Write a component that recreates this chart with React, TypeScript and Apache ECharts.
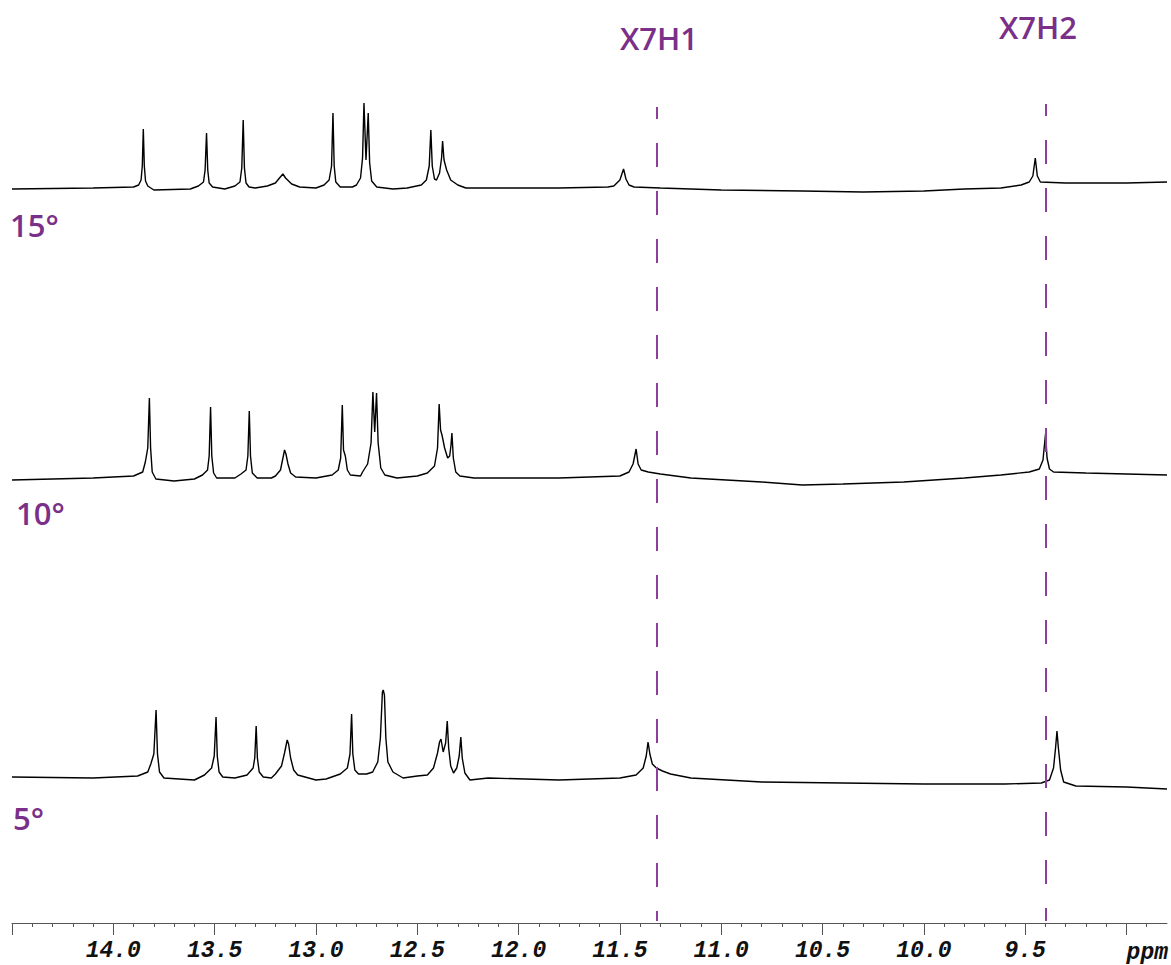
import React, { useEffect, useRef } from "react";
import * as echarts from "echarts";

// ---- axis ----
const PPM_MIN = 8.8;
const PPM_MAX = 14.5;
const MAJOR_TICKS = [14.5, 14.0, 13.5, 13.0, 12.5, 12.0, 11.5, 11.0, 10.5, 10.0, 9.5, 9.0];
const MAJOR_LABELS = [14.0, 13.5, 13.0, 12.5, 12.0, 11.5, 11.0, 10.5, 10.0, 9.5];
const MINOR_TICKS = [
  14.4, 14.3, 14.2, 14.1, 13.9, 13.8, 13.7, 13.6, 13.4, 13.3, 13.2, 13.1,
  12.9, 12.8, 12.7, 12.6, 12.4, 12.3, 12.2, 12.1, 11.9, 11.8, 11.7, 11.6,
  11.4, 11.3, 11.2, 11.1, 10.9, 10.8, 10.7, 10.6, 10.4, 10.3, 10.2, 10.1,
  9.9, 9.8, 9.7, 9.6, 9.4, 9.3, 9.2, 9.1, 8.9,
];
const AXIS_UNIT = "ppm";

// ---- annotations ----
const MARKERS = [
  { name: "X7H1", ppm: 11.32 },
  { name: "X7H2", ppm: 9.4 },
];
const TEMPERATURES = ["15°", "10°", "5°"];

// ---- spectra: [ppm, intensity] ----
const TRACE_15: [number, number][] = [
  [14.5, -1], [14.1, 0], [13.9, 1], [13.875, 3], [13.863, 8], [13.857, 22], [13.852, 59],
  [13.847, 22], [13.841, 7], [13.83, 2], [13.8, -2], [13.62, -1],
  [13.58, 2], [13.555, 6], [13.547, 18], [13.54, 55], [13.534, 18], [13.527, 5], [13.51, 1], [13.45, -1],
  [13.4, 2], [13.375, 6], [13.366, 20], [13.359, 68], [13.353, 20], [13.345, 5], [13.33, 1],
  [13.3, 0], [13.24, 2], [13.2, 5], [13.18, 10], [13.163, 14], [13.15, 10], [13.12, 4], [13.08, 1], [13.0, 0],
  [12.96, 3], [12.935, 8], [12.923, 22], [12.916, 75], [12.91, 22], [12.902, 6], [12.88, 1], [12.82, 1],
  [12.8, 3], [12.78, 10], [12.77, 30], [12.763, 85], [12.753, 28], [12.742, 75], [12.735, 25], [12.725, 7],
  [12.7, 1], [12.62, -1], [12.55, 0],
  [12.48, 3], [12.455, 8], [12.441, 22], [12.433, 58], [12.426, 22], [12.415, 9], [12.405, 8], [12.39, 15],
  [12.38, 30], [12.375, 47], [12.368, 28], [12.355, 18], [12.335, 8], [12.3, 3], [12.26, 0], [12.1, 0],
  [11.8, 0], [11.56, 1], [11.53, 2], [11.5, 8], [11.482, 19], [11.47, 9], [11.455, 3], [11.43, 1], [11.3, 0],
  [11.0, -2], [10.6, -3], [10.3, -4], [10.0, -3], [9.8, -1], [9.62, 0], [9.52, 3], [9.48, 6], [9.462, 12],
  [9.45, 30], [9.44, 12], [9.425, 6], [9.3, 5], [9.0, 5], [8.8, 6],
];

const TRACE_10: [number, number][] = [
  [14.5, -2], [14.1, 0], [13.9, 2], [13.855, 6], [13.842, 16], [13.83, 30], [13.822, 80], [13.816, 30],
  [13.808, 6], [13.79, -1], [13.7, -3], [13.6, -1],
  [13.56, 3], [13.535, 8], [13.527, 22], [13.52, 71], [13.514, 22], [13.505, 5], [13.49, 0], [13.4, 0],
  [13.37, 4], [13.345, 8], [13.336, 22], [13.329, 67], [13.323, 22], [13.314, 5], [13.29, 0], [13.22, 0],
  [13.2, 2], [13.175, 8], [13.165, 18], [13.155, 28], [13.148, 24], [13.138, 14], [13.125, 5], [13.1, 1], [13.0, 0],
  [12.92, 3], [12.89, 8], [12.878, 20], [12.87, 73], [12.864, 28], [12.855, 22], [12.845, 8], [12.83, 3], [12.78, 2],
  [12.77, 6], [12.745, 14], [12.728, 35], [12.719, 86], [12.71, 46], [12.701, 85], [12.693, 35], [12.68, 10],
  [12.66, 3], [12.6, 0], [12.5, 2],
  [12.45, 5], [12.415, 12], [12.4, 30], [12.392, 74], [12.385, 48], [12.378, 43], [12.365, 30], [12.35, 20],
  [12.34, 22], [12.334, 32], [12.329, 45], [12.322, 20], [12.31, 6], [12.29, 2], [12.22, 0],
  [11.8, 0], [11.5, 2], [11.455, 6], [11.435, 14], [11.42, 29], [11.41, 14], [11.395, 8], [11.36, 6], [11.3, 4],
  [11.15, 0], [10.8, -4], [10.6, -7], [10.4, -6], [10.1, -4], [9.8, 0], [9.62, 3], [9.48, 6], [9.43, 9],
  [9.412, 18], [9.399, 45], [9.392, 20], [9.38, 9], [9.36, 6], [9.2, 5], [9.0, 4], [8.8, 3],
];

const TRACE_5: [number, number][] = [
  [14.5, 1], [14.1, 0], [13.88, 2], [13.83, 6], [13.815, 14], [13.8, 24], [13.789, 68], [13.782, 24],
  [13.772, 6], [13.75, 0], [13.6, -2],
  [13.55, 3], [13.515, 10], [13.502, 22], [13.493, 61], [13.487, 22], [13.478, 6], [13.46, 1], [13.4, 0],
  [13.34, 3], [13.31, 10], [13.302, 20], [13.295, 52], [13.289, 20], [13.28, 6], [13.26, 1], [13.22, 0],
  [13.2, 4], [13.17, 12], [13.155, 25], [13.142, 38], [13.135, 34], [13.125, 20], [13.11, 8], [13.09, 3],
  [13.0, -2], [12.95, -1],
  [12.88, 4], [12.845, 10], [12.832, 24], [12.824, 64], [12.818, 24], [12.808, 8], [12.79, 4], [12.75, 4],
  [12.72, 6], [12.695, 16], [12.682, 40], [12.672, 86], [12.668, 88], [12.662, 83], [12.655, 40], [12.645, 16],
  [12.62, 6], [12.57, 0], [12.5, 2],
  [12.45, 3], [12.42, 10], [12.4, 25], [12.39, 36], [12.383, 39], [12.372, 26], [12.36, 35], [12.352, 57],
  [12.345, 30], [12.335, 12], [12.321, 5], [12.305, 10], [12.293, 22], [12.285, 41], [12.278, 20], [12.265, 5],
  [12.24, -2], [12.15, 0],
  [11.8, -2], [11.5, 0], [11.42, 3], [11.385, 10], [11.37, 22], [11.361, 36], [11.352, 24], [11.34, 14],
  [11.32, 10], [11.29, 7], [11.25, 4], [11.15, 0],
  [10.8, -4], [10.4, -5], [10.0, -6], [9.6, -6], [9.42, -5], [9.38, -2], [9.36, 10], [9.35, 30], [9.343, 47],
  [9.336, 30], [9.325, 8], [9.31, -4], [9.25, -8], [9.0, -9], [8.8, -11],
];

const TRACES = [TRACE_15, TRACE_10, TRACE_5];

// ---- layout / style ----
const W = 1171;
const H = 965;
const GRID_LEFT = 12;
const GRID_RIGHT = 4;
const TRACE_BASELINES = [188, 478, 778]; // pixel row of each trace's zero
const AXIS_Y = 923;
const PURPLE_TEXT = "#7a3088";
const PURPLE_LINE = "#8e3f9b";
const LABEL_FONT = "'Open Sans', 'Noto Sans', sans-serif";

export default function App() {
  const ref = useRef<HTMLDivElement>(null);

  useEffect(() => {
    if (!ref.current) return;
    const chart = echarts.init(ref.current, null, { renderer: "svg" });

    const grids: any[] = TRACE_BASELINES.map((b) => ({
      left: GRID_LEFT,
      right: GRID_RIGHT,
      top: b - 100,
      height: 120,
      containLabel: false,
    }));
    const axisGridTop = 104;
    grids.push({ left: GRID_LEFT, right: GRID_RIGHT, top: axisGridTop, height: AXIS_Y - axisGridTop });

    const hiddenX = (i: number) => ({
      type: "value",
      gridIndex: i,
      min: PPM_MIN,
      max: PPM_MAX,
      inverse: true,
      show: false,
    });
    const xAxes: any[] = [0, 1, 2].map(hiddenX);
    xAxes.push({
      type: "value",
      gridIndex: 3,
      min: PPM_MIN,
      max: PPM_MAX,
      inverse: true,
      position: "bottom",
      axisLine: { show: true, lineStyle: { color: "#555", width: 1 } },
      axisTick: { show: true, customValues: MAJOR_TICKS, length: 12, lineStyle: { color: "#555", width: 1 } },
      minorTick: { show: false },
      splitLine: { show: false },
      axisLabel: {
        show: true,
        customValues: MAJOR_LABELS,
        formatter: (v: number) => v.toFixed(1),
        fontFamily: "'Liberation Mono', 'DejaVu Sans Mono', monospace",
        fontStyle: "italic",
        fontWeight: "bold",
        fontSize: 23,
        color: "#111",
        margin: 16,
      },
    });
    xAxes.push({
      type: "value",
      gridIndex: 3,
      min: PPM_MIN,
      max: PPM_MAX,
      inverse: true,
      position: "bottom",
      axisLine: { show: false },
      axisTick: { show: true, customValues: MINOR_TICKS, length: 4, lineStyle: { color: "#555", width: 1 } },
      axisLabel: { show: false },
      splitLine: { show: false },
    });

    const yAxes: any[] = [0, 1, 2].map((i) => ({
      type: "value",
      gridIndex: i,
      min: -20,
      max: 100,
      show: false,
    }));
    yAxes.push({ type: "value", gridIndex: 3, min: 0, max: AXIS_Y - axisGridTop, show: false });

    const series: any[] = TRACES.map((t, i) => ({
      type: "line",
      xAxisIndex: i,
      yAxisIndex: i,
      data: t,
      symbol: "none",
      showSymbol: false,
      clip: false,
      silent: true,
      lineStyle: { color: "#000", width: 1.4 },
    }));

    const markerTops = [AXIS_Y - 107, AXIS_Y - 104];
    series.push({
      type: "line",
      xAxisIndex: 3,
      yAxisIndex: 3,
      data: [],
      symbol: "none",
      silent: true,
      markLine: {
        silent: true,
        symbol: ["none", "none"],
        label: { show: false },
        lineStyle: { color: PURPLE_LINE, width: 2, type: [24, 24], dashOffset: 12 },
        data: MARKERS.map((m, i) => [
          { coord: [m.ppm, markerTops[i]] },
          { coord: [m.ppm, 2] },
        ]),
      },
    });

    const markerLabelPos = [
      { x: 659, y: 38 },
      { x: 1038, y: 27 },
    ];
    const tempLabelPos = [
      { x: 10, y: 225 },
      { x: 16, y: 513 },
      { x: 13, y: 818 },
    ];

    const graphic: any[] = [
      ...MARKERS.map((m, i) => ({
        type: "text",
        x: markerLabelPos[i].x,
        y: markerLabelPos[i].y,
        style: {
          text: m.name,
          fill: PURPLE_TEXT,
          font: `600 31px ${LABEL_FONT}`,
          textAlign: "center",
          textVerticalAlign: "middle",
        },
      })),
      ...TEMPERATURES.map((t, i) => ({
        type: "text",
        x: tempLabelPos[i].x,
        y: tempLabelPos[i].y,
        style: {
          text: t,
          fill: PURPLE_TEXT,
          font: `600 31px ${LABEL_FONT}`,
          textAlign: "left",
          textVerticalAlign: "middle",
        },
      })),
      {
        type: "text",
        x: 1168,
        y: 953,
        style: {
          text: AXIS_UNIT,
          fill: "#111",
          font: "italic bold 23px 'Liberation Mono', 'DejaVu Sans Mono', monospace",
          textAlign: "right",
          textVerticalAlign: "middle",
        },
      },
    ];

    chart.setOption({
      animation: false,
      backgroundColor: "#fff",
      grid: grids,
      xAxis: xAxes,
      yAxis: yAxes,
      series,
      graphic,
    });

    return () => chart.dispose();
  }, []);

  return (
    <div
      ref={ref}
      style={{ position: "absolute", left: 0, top: 0, width: W, height: H, background: "#fff" }}
    />
  );
}
